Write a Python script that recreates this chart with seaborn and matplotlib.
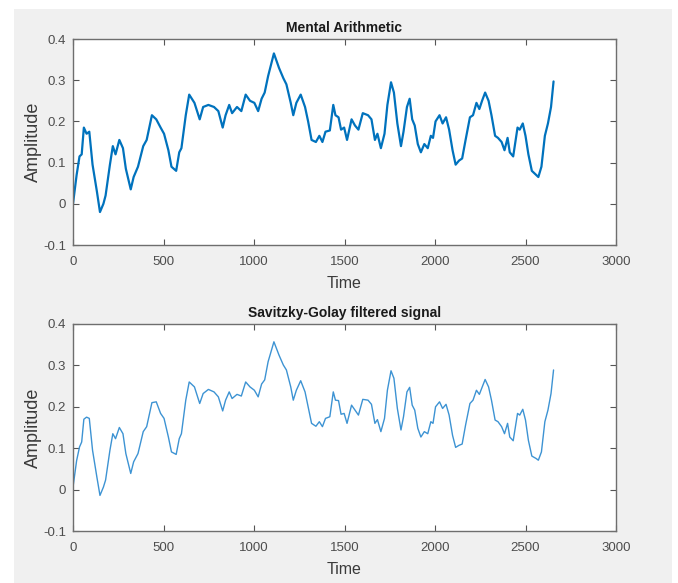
import matplotlib
matplotlib.use("Agg")
import matplotlib.pyplot as plt
from matplotlib.patches import Rectangle
import seaborn as sns

sns.set_theme(style="white")
plt.rcParams['font.family'] = ['Liberation Sans', 'DejaVu Sans']

# sample index (time) of the points
time = [0, 20, 36, 48, 60, 75, 90, 108, 132, 149,
        168, 180, 204, 220, 235, 256, 276, 292, 319, 335,
        359, 388, 407, 436, 460, 484, 503, 527, 544, 570,
        587, 599, 623, 642, 671, 700, 719, 748, 779, 803,
        827, 843, 863, 879, 906, 930, 954, 978, 1002, 1023,
        1042, 1059, 1078, 1110, 1138, 1162, 1179, 1203, 1217, 1234,
        1258, 1282, 1299, 1318, 1342, 1361, 1378, 1395, 1419, 1438,
        1450, 1467, 1481, 1498, 1514, 1539, 1558, 1577, 1601, 1630,
        1649, 1668, 1682, 1701, 1721, 1737, 1757, 1773, 1792, 1812,
        1826, 1845, 1860, 1874, 1888, 1905, 1922, 1941, 1960, 1977,
        1989, 2003, 2025, 2042, 2061, 2078, 2097, 2114, 2133, 2150,
        2169, 2193, 2210, 2229, 2245, 2260, 2277, 2296, 2312, 2332,
        2348, 2368, 2384, 2401, 2413, 2432, 2456, 2468, 2485, 2500,
        2516, 2535, 2559, 2571, 2588, 2607, 2624, 2641, 2655]

# raw EEG amplitude (mental arithmetic)
raw = [0.0, 0.07, 0.115, 0.12, 0.185, 0.17, 0.175, 0.095, 0.03, -0.02,
       0.0, 0.02, 0.095, 0.14, 0.12, 0.155, 0.135, 0.085, 0.035, 0.065,
       0.09, 0.14, 0.155, 0.215, 0.205, 0.185, 0.17, 0.13, 0.09, 0.08,
       0.125, 0.135, 0.215, 0.265, 0.245, 0.205, 0.235, 0.24, 0.235, 0.225,
       0.185, 0.215, 0.24, 0.22, 0.235, 0.225, 0.265, 0.25, 0.245, 0.225,
       0.255, 0.27, 0.31, 0.365, 0.33, 0.305, 0.29, 0.245, 0.215, 0.245,
       0.265, 0.235, 0.2, 0.155, 0.15, 0.165, 0.15, 0.175, 0.178, 0.24,
       0.215, 0.21, 0.18, 0.185, 0.155, 0.205, 0.19, 0.18, 0.22, 0.215,
       0.205, 0.155, 0.17, 0.135, 0.17, 0.24, 0.295, 0.27, 0.195, 0.14,
       0.175, 0.235, 0.255, 0.205, 0.19, 0.145, 0.125, 0.145, 0.135, 0.165,
       0.16, 0.2, 0.215, 0.195, 0.21, 0.18, 0.13, 0.095, 0.105, 0.11,
       0.155, 0.21, 0.215, 0.245, 0.23, 0.25, 0.27, 0.25, 0.215, 0.165,
       0.16, 0.15, 0.13, 0.16, 0.125, 0.115, 0.185, 0.18, 0.195, 0.165,
       0.12, 0.08, 0.07, 0.065, 0.09, 0.165, 0.195, 0.235, 0.297]

# Savitzky-Golay filtered amplitude
filtered = [0.006, 0.07, 0.103, 0.115, 0.17, 0.175, 0.172, 0.095, 0.03, -0.014,
            0.006, 0.023, 0.095, 0.135, 0.123, 0.15, 0.135, 0.087, 0.039, 0.067,
            0.087, 0.14, 0.152, 0.21, 0.212, 0.184, 0.172, 0.127, 0.091, 0.085,
            0.123, 0.135, 0.216, 0.26, 0.248, 0.208, 0.232, 0.242, 0.236, 0.224,
            0.19, 0.216, 0.236, 0.22, 0.23, 0.226, 0.26, 0.248, 0.24, 0.224,
            0.255, 0.265, 0.309, 0.357, 0.325, 0.301, 0.289, 0.248, 0.216, 0.24,
            0.263, 0.236, 0.2, 0.16, 0.153, 0.164, 0.152, 0.172, 0.176, 0.236,
            0.216, 0.215, 0.182, 0.184, 0.16, 0.204, 0.192, 0.18, 0.218, 0.216,
            0.206, 0.16, 0.169, 0.14, 0.172, 0.24, 0.287, 0.269, 0.196, 0.144,
            0.176, 0.236, 0.247, 0.204, 0.192, 0.148, 0.127, 0.14, 0.135, 0.164,
            0.16, 0.2, 0.212, 0.196, 0.206, 0.18, 0.131, 0.102, 0.107, 0.11,
            0.156, 0.208, 0.216, 0.24, 0.23, 0.247, 0.266, 0.248, 0.216, 0.168,
            0.164, 0.152, 0.135, 0.16, 0.127, 0.118, 0.184, 0.18, 0.194, 0.168,
            0.119, 0.081, 0.075, 0.071, 0.091, 0.164, 0.192, 0.232, 0.289]

x_ticks = [0, 500, 1000, 1500, 2000, 2500, 3000]
y_ticks = [-0.1, 0, 0.1, 0.2, 0.3, 0.4]
y_tick_labels = ["-0.1", "0", "0.1", "0.2", "0.3", "0.4"]

fig = plt.figure(figsize=(6.78, 5.83), dpi=100, facecolor="white")
# matlab figure window background
fig.patches.append(Rectangle((14 / 678, 0), 658 / 678, 574 / 583,
                             transform=fig.transFigure, facecolor="#f0f0f0",
                             edgecolor="none", zorder=-10))

ax1 = fig.add_axes([73 / 678, 1 - 245 / 583, 543 / 678, 206 / 583])
ax2 = fig.add_axes([73 / 678, 1 - 531 / 583, 543 / 678, 207 / 583])

sns.lineplot(x=time, y=raw, ax=ax1, color="#0072BD", linewidth=1.6, sort=False)
sns.lineplot(x=time, y=filtered, ax=ax2, color="#3d93d3", linewidth=1.0, sort=False)

for ax, title in [(ax1, "Mental Arithmetic"), (ax2, "Savitzky-Golay filtered signal")]:
    ax.set_facecolor("white")
    ax.set_xlim(0, 3000)
    ax.set_ylim(-0.1, 0.4)
    ax.set_xticks(x_ticks)
    ax.set_xticklabels([str(v) for v in x_ticks])
    ax.set_yticks(y_ticks)
    ax.set_yticklabels(y_tick_labels)
    ax.tick_params(direction="in", length=4, width=0.8, colors="#555555",
                   labelcolor="#4d4d4d", labelsize=9.5, top=True, right=True,
                   bottom=True, left=True)
    ax.tick_params(axis="x", pad=8)
    ax.tick_params(axis="y", pad=5)
    for s in ax.spines.values():
        s.set_visible(True)
        s.set_color("#6e6e6e")
        s.set_linewidth(1.0)
    ax.set_title(title, fontsize=10, fontweight="bold", color="#1a1a1a", pad=5)
    ax.set_xlabel("Time", fontsize=11.5, color="#3a3a3a", labelpad=6)
    ax.set_ylabel("Amplitude", fontsize=13, color="#3a3a3a", labelpad=1)
    ax.grid(False)

fig.savefig("out.png", dpi=100, facecolor=fig.get_facecolor())
